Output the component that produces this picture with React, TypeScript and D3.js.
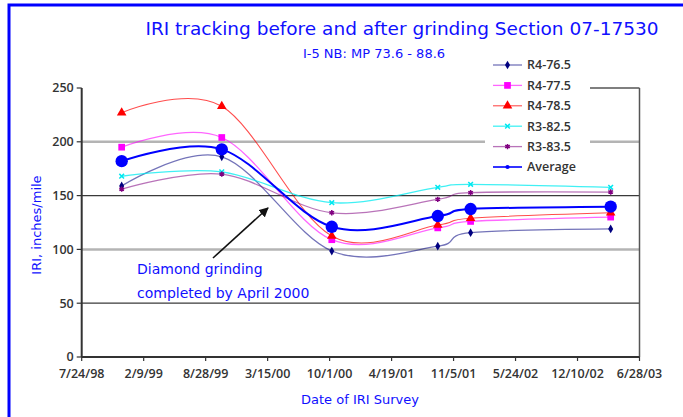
import * as d3 from 'd3'

const W = 683
const H = 417

const parseDate = d3.utcParse('%m/%d/%y')
const parseIso = d3.utcParse('%Y-%m-%d')

const tickLabels = ['7/24/98', '2/9/99', '8/28/99', '3/15/00', '10/1/00', '4/19/01', '11/5/01', '5/24/02', '12/10/02', '6/28/03']
const yTicks = [0, 50, 100, 150, 200, 250]

const surveyDates = ['1998-11-30', '1999-10-19', '2000-10-08', '2001-09-15', '2001-12-30', '2003-03-27']

const seriesNames = ['R4-76.5', 'R4-77.5', 'R4-78.5', 'R3-82.5', 'R3-83.5', 'Average']
const r476 = [159, 186, 98.5, 103, 115.5, 119]
const r477 = [195, 204, 109, 120, 126, 130]
const r478 = [227, 233, 112.5, 122.7, 129, 134]
const r382 = [168, 172, 143.4, 157.7, 160.5, 157.7]
const r383 = [156, 170, 134, 146.5, 152.7, 153.3]
const average = [182, 193, 121, 131, 137.5, 139.7]

const seriesValues = [r476, r477, r478, r382, r383, average]

type Style = { color: string; line: string; width: number; symbol: d3.SymbolType; size: number; stroke?: boolean }
const styles: Style[] = [
  { color: '#000080', line: 'rgba(0,0,128,0.55)', width: 1.3, symbol: d3.symbolDiamond, size: 22 },
  { color: '#ff00ff', line: 'rgba(255,0,255,0.6)', width: 1.3, symbol: d3.symbolSquare, size: 45 },
  { color: '#ff0000', line: 'rgba(255,0,0,0.7)', width: 1.1, symbol: d3.symbolTriangle, size: 40 },
  { color: '#00e8f0', line: 'rgba(0,235,240,0.75)', width: 1.3, symbol: d3.symbolX, size: 16, stroke: true },
  { color: '#800080', line: 'rgba(128,0,128,0.55)', width: 1.3, symbol: d3.symbolAsterisk, size: 20, stroke: true },
  { color: '#0000ff', line: '#0000ff', width: 2, symbol: d3.symbolCircle, size: 120 },
]

const blue = '#1010ff'
const axisText = '#333'
const font = '"Open Sans", "DejaVu Sans", sans-serif'
const comic = '"DejaVu Sans", sans-serif'

export default function App() {
  const tickDates = tickLabels.map(t => parseDate(t) as Date)
  const x = d3.scaleUtc().domain([tickDates[0], tickDates[tickDates.length - 1]]).range([81.7, 639.5])
  const y = d3.scaleLinear().domain([0, 250]).range([357, 88])
  const dates = surveyDates.map(d => parseIso(d) as Date)

  const line = d3.line<number>()
    .x((_, i) => x(dates[i]))
    .y(v => y(v))
    .curve(d3.curveCardinal.tension(0))

  const [x0, x1] = x.range()
  const legendX = 485
  const legendY = 65
  const legendStep = 20.4
  const legendRight = 590

  return (
    <svg width={W} height={H} style={{ position: 'absolute', left: 0, top: 0, background: '#fff' }}>
      {/* frame */}
      <path d={`M9,${H} L9,5 L${W},5`} fill="none" stroke="#0000ff" strokeWidth={3} />

      {/* title */}
      <text x={402} y={35} textAnchor="middle" fill={blue} fontFamily={comic} fontSize={18.5}>
        IRI tracking before and after grinding Section 07-17530
      </text>
      <text x={374} y={58} textAnchor="middle" fill={blue} fontFamily={comic} fontSize={13}>
        I-5 NB: MP 73.6 - 88.6
      </text>

      {/* gridlines */}
      {yTicks.filter(t => t > 0 && t < 250).map(t => (
        <line key={t} x1={x0} x2={x1} y1={y(t)} y2={y(t)}
          stroke={t % 100 === 0 ? '#b4b4b4' : '#3a3a3a'} strokeWidth={t % 100 === 0 ? 2.5 : 1.2} />
      ))}
      <line x1={x1} x2={x1} y1={y(250)} y2={y(0)} stroke="#555" strokeWidth={1.5} />

      {/* axes */}
      <line x1={x0} x2={x0} y1={y(250)} y2={y(0)} stroke="#333" strokeWidth={2} />
      <line x1={x0} x2={x1} y1={y(0)} y2={y(0)} stroke="#333" strokeWidth={2} />
      {yTicks.map(t => (
        <g key={t}>
          <line x1={x0 - 5} x2={x0} y1={y(t)} y2={y(t)} stroke="#333" strokeWidth={1.2} />
          <text x={x0 - 8} y={y(t)} dy="0.35em" textAnchor="end" fill={axisText}
            fontFamily={font} fontWeight={600} fontSize={12.5}>{t}</text>
        </g>
      ))}
      {tickDates.map((d, i) => (
        <g key={i}>
          <line x1={x(d)} x2={x(d)} y1={y(0)} y2={y(0) + 4} stroke="#333" strokeWidth={1.2} />
          <text x={x(d)} y={y(0) + 21} textAnchor="middle" fill={axisText}
            fontFamily={font} fontWeight={600} fontSize={12.5}>{tickLabels[i]}</text>
        </g>
      ))}

      {/* axis titles */}
      <text transform={`translate(41,${225}) rotate(-90)`} textAnchor="middle" fill={blue}
        fontFamily={comic} fontSize={13}>IRI, inches/mile</text>
      <text x={360} y={404} textAnchor="middle" fill={blue} fontFamily={comic} fontSize={13}>
        Date of IRI Survey
      </text>

      {/* series */}
      {seriesValues.map((vals, si) => (
        <path key={si} d={line(vals) ?? ''} fill="none" stroke={styles[si].line} strokeWidth={styles[si].width} />
      ))}
      {seriesValues.map((vals, si) => (
        <g key={si}>
          {vals.map((v, i) => {
            const s = styles[si]
            return (
              <path key={i} transform={`translate(${x(dates[i])},${y(v)})`}
                d={d3.symbol(s.symbol, s.size)() ?? ''}
                fill={s.stroke ? 'none' : s.color} stroke={s.stroke ? s.color : 'none'} strokeWidth={1.5} />
            )
          })}
        </g>
      ))}

      {/* annotation */}
      <defs>
        <marker id="ah" viewBox="0 0 10 10" refX={9} refY={5} markerWidth={6} markerHeight={6} orient="auto">
          <path d="M0,0 L10,5 L0,10 z" fill="#111" />
        </marker>
      </defs>
      <line x1={213} y1={258} x2={268} y2={208} stroke="#111" strokeWidth={1.6} markerEnd="url(#ah)" />
      <text x={137} y={274} fill={blue} fontFamily={comic} fontSize={14}>Diamond grinding</text>
      <text x={137} y={298} fill={blue} fontFamily={comic} fontSize={14}>completed by April 2000</text>

      {/* legend */}
      <rect x={legendX} y={legendY - 12} width={legendRight - legendX} height={legendStep * 6 + 6} fill="#fff" />
      <line x1={legendRight} x2={x1} y1={y(250)} y2={y(250)} stroke="#555" strokeWidth={1.5} />
      {seriesNames.map((name, i) => {
        const s = styles[i]
        const ly = legendY + i * legendStep
        const small = i === 5 ? 14 : s.size
        return (
          <g key={name}>
            <line x1={493} x2={522} y1={ly} y2={ly} stroke={s.line} strokeWidth={i === 5 ? 1.6 : s.width} />
            <path transform={`translate(507.5,${ly})`} d={d3.symbol(s.symbol, small)() ?? ''}
              fill={s.stroke ? 'none' : s.color} stroke={s.stroke ? s.color : 'none'} strokeWidth={1.5} />
            <text x={527} y={ly} dy="0.35em" fill={axisText} fontFamily={font} fontWeight={600} fontSize={12.5}>{name}</text>
          </g>
        )
      })}
    </svg>
  )
}
